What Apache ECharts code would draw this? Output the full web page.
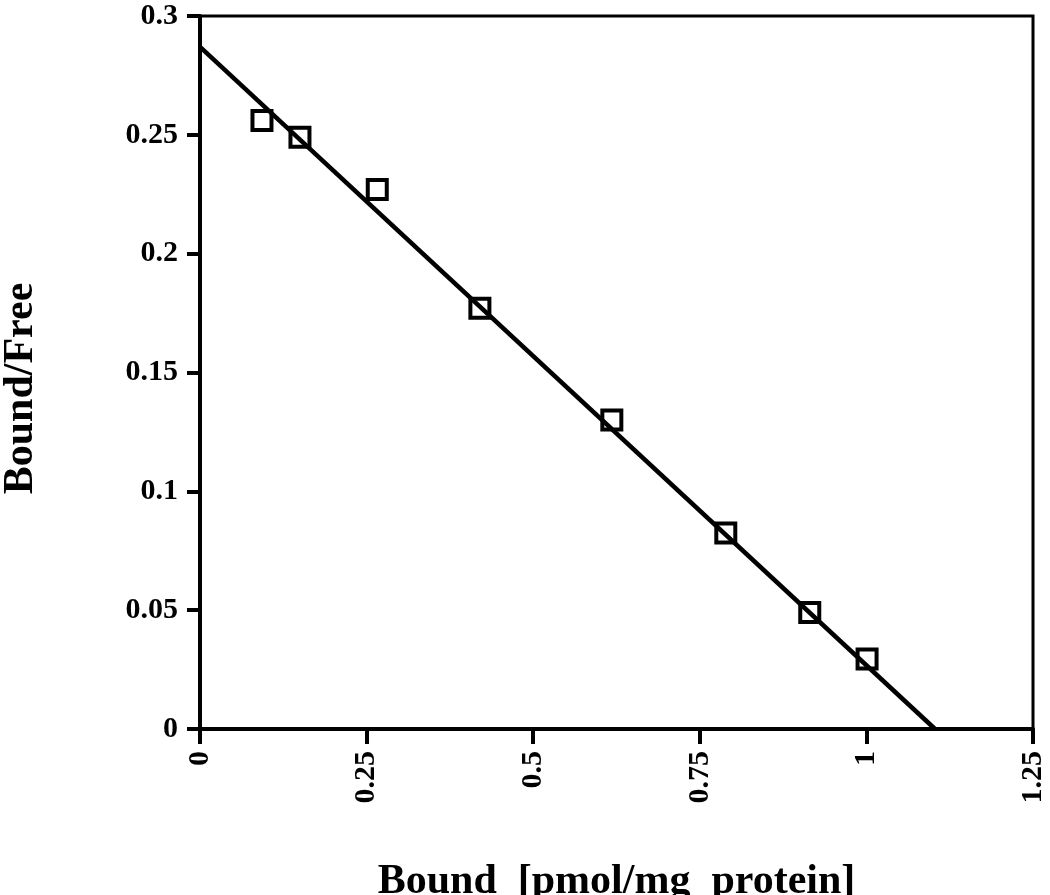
<!DOCTYPE html>
<html>
<head>
<meta charset="utf-8">
<script src="https://cdn.jsdelivr.net/npm/echarts@6/dist/echarts.min.js"></script>
<style>
  html, body { margin: 0; padding: 0; background: #fff; }
  #chart { width: 1050px; height: 895px; }
</style>
</head>
<body>
<div id="chart"></div>
<script>
// measured points (Bound, Bound/Free)
var boundVals = [0.093, 0.150, 0.266, 0.420, 0.618, 0.789, 0.915, 1.001];
var ratioVals = [0.256, 0.249, 0.227, 0.177, 0.130, 0.0825, 0.049, 0.0295];
// fitted line end points
var fitX = [0, 1.103];
var fitY = [0.287, 0];

var xTicks = [0, 0.25, 0.5, 0.75, 1, 1.25];
var yTicks = [0, 0.05, 0.1, 0.15, 0.2, 0.25, 0.3];

var font = 'Liberation Serif';

var points = boundVals.map(function (x, i) { return [x, ratioVals[i]]; });
var fitLine = fitX.map(function (x, i) { return [x, fitY[i]]; });

var chart = echarts.init(document.getElementById('chart'));
chart.setOption({
  animation: false,
  backgroundColor: '#fff',
  grid: {
    left: 200,
    right: 17,
    top: 16,
    bottom: 166,
    outerBoundsMode: 'none',
    containLabel: false,
    show: true,
    borderColor: '#000',
    borderWidth: 3
  },
  xAxis: {
    type: 'value',
    min: 0,
    max: 1.25,
    interval: 0.25,
    name: 'Bound  [pmol/mg  protein]',
    nameLocation: 'middle',
    nameGap: 132,
    nameTextStyle: { fontFamily: font, fontWeight: 'bold', fontSize: 42, color: '#000' },
    axisLine: { lineStyle: { color: '#000', width: 4 } },
    axisTick: { length: 15, lineStyle: { color: '#000', width: 4 } },
    splitLine: { show: false },
    axisLabel: {
      rotate: 90,
      margin: 22,
      fontFamily: font,
      fontWeight: 'bold',
      fontSize: 30,
      color: '#000',
      formatter: function (v) { return xTicks.indexOf(v) >= 0 ? String(v) : ''; }
    }
  },
  yAxis: {
    type: 'value',
    min: 0,
    max: 0.3,
    interval: 0.05,
    name: 'Bound/Free',
    nameLocation: 'middle',
    nameGap: 158,
    nameTextStyle: {
      fontFamily: font, fontWeight: 'bold', fontSize: 42, color: '#000',
      padding: [0, 32, 0, 0]
    },
    axisLine: { show: true, lineStyle: { color: '#000', width: 4 } },
    axisTick: { show: true, length: 13, lineStyle: { color: '#000', width: 4 } },
    splitLine: { show: false },
    axisLabel: {
      margin: 22,
      fontFamily: font,
      fontWeight: 'bold',
      fontSize: 30,
      color: '#000',
      formatter: function (v) {
        var r = Math.round(v * 100) / 100;
        return yTicks.indexOf(r) >= 0 ? String(r) : '';
      }
    }
  },
  series: [
    {
      type: 'line',
      data: fitLine,
      showSymbol: false,
      lineStyle: { color: '#000', width: 4.5 },
      z: 2
    },
    {
      type: 'scatter',
      data: points,
      symbol: 'rect',
      symbolSize: 19,
      itemStyle: { color: 'rgba(0,0,0,0)', borderColor: '#000', borderWidth: 4, opacity: 1 },
      z: 3
    }
  ]
});
</script>
</body>
</html>
